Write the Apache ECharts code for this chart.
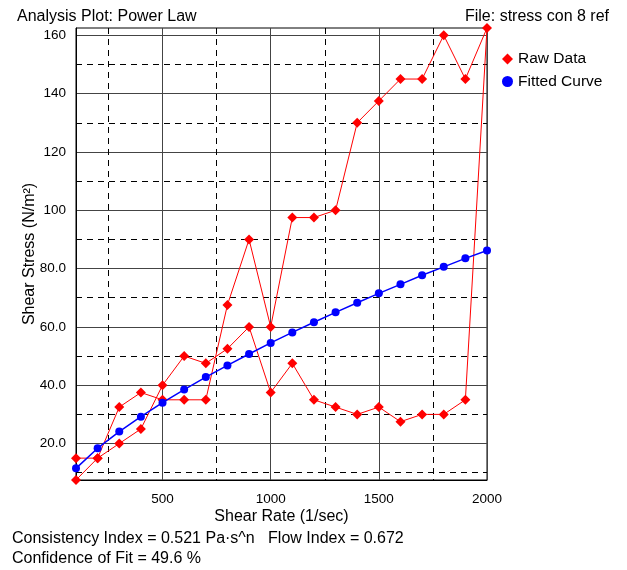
<!DOCTYPE html>
<html>
<head>
<meta charset="utf-8">
<script src="https://cdn.jsdelivr.net/npm/echarts@6/dist/echarts.min.js"></script>
<style>html,body{margin:0;padding:0;background:#fff}#c{width:627px;height:570px}</style>
</head>
<body>
<div id="c"></div>
<script>
// Raw data: ascending branch then descending branch (hysteresis loop)
const rawRate = [100,200,300,400,500,600,700,800,900,1000,1100,1200,1300,1400,1500,1600,1700,1800,1900,2000,
                 1900,1800,1700,1600,1500,1400,1300,1200,1100,1000,900,800,700,600,500,400,300,200,100];
const rawStress = [15,15,32.5,37.5,35,35,35,67.5,90,60,97.5,97.5,100,130,137.5,145,145,160,145,162.5,
                   35,30,30,27.5,32.5,30,32.5,35,47.5,37.5,60,52.5,47.5,50,40,25,20,15,7.5];
const fitRate = [100,200,300,400,500,600,700,800,900,1000,1100,1200,1300,1400,1500,1600,1700,1800,1900,2000];
const fitStress = [11.5,18.4,24.1,29.2,34.0,38.5,42.8,46.8,50.7,54.5,58.1,61.6,65.0,68.3,71.5,74.6,77.7,80.6,83.5,86.2];
const xMajor = [500,1000,1500,2000];
const xMinor = [250,750,1250,1750];
const yMajor = [20,40,60,80,100,120,140,160];
const yMinor = [10,30,50,70,90,110,130,150];
const yLabels = {20:'20.0',40:'40.0',60:'60.0',80:'80.0',100:'100',120:'120',140:'140',160:'160'};

const FONT = 'Liberation Sans, Arial, sans-serif';
const chart = echarts.init(document.getElementById('c'), null, {renderer:'canvas'});
const majorLine = {show:true, lineStyle:{color:'#444', width:1, type:'solid'}};
const minorLine = {show:true, lineStyle:{color:'#000', width:1, type:[6,5]}};
const xBase = {type:'value', min:100, max:2000, position:'bottom'};
const yBase = {type:'value', min:7.5, max:162.5, position:'left'};
chart.setOption({
  animation:false,
  textStyle:{fontFamily:FONT},
  title:[
    {text:'Analysis Plot: Power Law', left:12, top:4, textStyle:{fontFamily:FONT, fontSize:16, fontWeight:'normal', color:'#000'}},
    {text:'File: stress con 8 ref', right:13, top:4, textStyle:{fontFamily:FONT, fontSize:16, fontWeight:'normal', color:'#000'}}
  ],
  grid:{left:76, right:140, top:28, bottom:90, show:true, borderColor:'#000', borderWidth:1, backgroundColor:'transparent'},
  legend:{
    orient:'vertical', left:497, top:46, itemWidth:11, itemHeight:11, itemGap:6.5,
    textStyle:{fontFamily:FONT, fontSize:15.5, color:'#000'},
    data:[{name:'Raw Data', icon:'diamond'},{name:'Fitted Curve', icon:'circle'}]
  },
  xAxis:[
    Object.assign({}, xBase, {
      name:'Shear Rate (1/sec)', nameLocation:'middle', nameGap:29, nameMoveOverlap:false,
      nameTextStyle:{fontFamily:FONT, fontSize:16, color:'#000'},
      axisLine:{show:true, lineStyle:{color:'#000'}},
      axisTick:{show:false, customValues:xMajor},
      axisLabel:{show:true, customValues:xMajor, margin:12, fontFamily:FONT, fontSize:13.5, color:'#000',
                 formatter:v => String(v)},
      splitLine:majorLine
    }),
    Object.assign({}, xBase, {
      axisLine:{show:false}, axisTick:{show:false, customValues:xMinor},
      axisLabel:{show:false}, splitLine:minorLine
    })
  ],
  yAxis:[
    Object.assign({}, yBase, {
      name:'Shear Stress (N/m²)', nameLocation:'middle', nameGap:38, nameMoveOverlap:false,
      nameTextStyle:{fontFamily:FONT, fontSize:16, color:'#000'},
      axisLine:{show:true, lineStyle:{color:'#000'}},
      axisTick:{show:false, customValues:yMajor},
      axisLabel:{show:true, customValues:yMajor, margin:10, fontFamily:FONT, fontSize:13.5, color:'#000',
                 formatter:v => yLabels[v] || String(v)},
      splitLine:majorLine
    }),
    Object.assign({}, yBase, {
      axisLine:{show:false}, axisTick:{show:false, customValues:yMinor},
      axisLabel:{show:false}, splitLine:minorLine
    })
  ],
  series:[
    {
      name:'Raw Data', type:'line', xAxisIndex:0, yAxisIndex:0,
      data: rawRate.map((x,i)=>[x, rawStress[i]]),
      symbol:'diamond', symbolSize:10, showAllSymbol:true,
      itemStyle:{color:'#ff0000'}, lineStyle:{color:'#ff0000', width:1}, z:3
    },
    {
      name:'Fitted Curve', type:'line', xAxisIndex:0, yAxisIndex:0,
      data: fitRate.map((x,i)=>[x, fitStress[i]]),
      symbol:'circle', symbolSize:8, showAllSymbol:true,
      itemStyle:{color:'#0000ff'}, lineStyle:{color:'#0000ff', width:1.5}, z:4
    }
  ],
  graphic:[
    {type:'text', left:12, top:531, style:{text:'Consistency Index = 0.521 Pa·s^n   Flow Index = 0.672', font:'16px '+FONT, fill:'#000'}},
    {type:'text', left:12, top:551, style:{text:'Confidence of Fit = 49.6 %', font:'16px '+FONT, fill:'#000'}}
  ]
});
</script>
</body>
</html>
